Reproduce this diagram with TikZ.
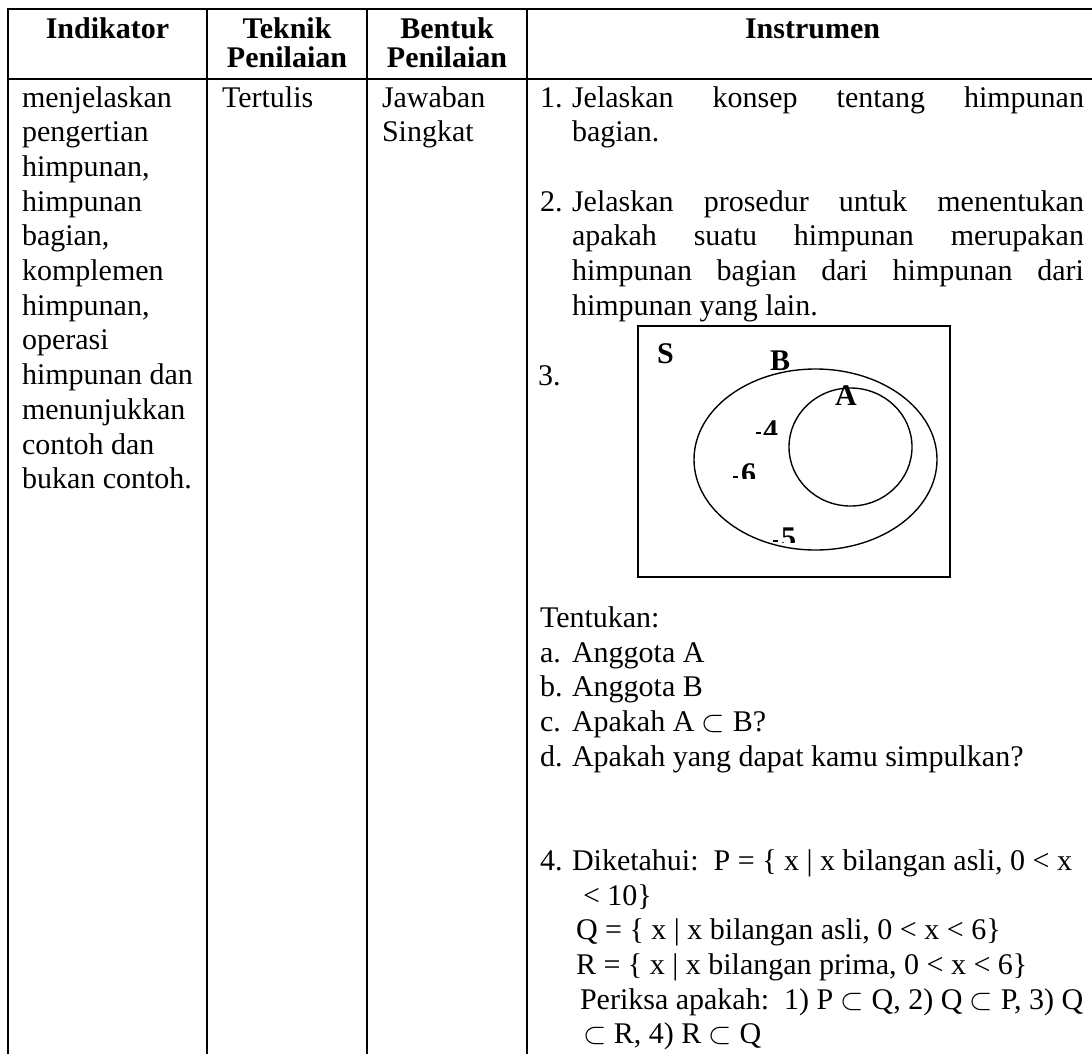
\documentclass[tikz,border=0pt]{standalone}
\usepackage{fontspec}
\setmainfont{Liberation Serif}
\newcommand\jline[1]{\makebox[204.8pt][s]{#1}}
\begin{document}
\begin{tikzpicture}[x=0.4pt,y=-0.4pt,
  rule/.style={line width=0.8pt},
  venn/.style={line width=0.55pt},
  txt/.style={anchor=base west,inner sep=0pt,outer sep=0pt,font=\fontsize{12pt}{14pt}\selectfont},
  hd/.style={anchor=base,inner sep=0pt,outer sep=0pt,font=\fontsize{12pt}{14pt}\selectfont\bfseries},
  lbl/.style={anchor=base west,inner sep=0pt,outer sep=0pt,font=\fontsize{12pt}{14pt}\selectfont\bfseries}]
\useasboundingbox (0,0) rectangle (1092,1053);
\clip (0,0) rectangle (1092,1053);
% table rules
\draw[rule] (8,1060) -- (8,9.3) -- (1098,9.3) -- (1098,1060);
\draw[rule] (8,79) -- (1098,79);
\draw[rule] (207,9.3) -- (207,1060);
\draw[rule] (367,9.3) -- (367,1060);
\draw[rule] (527,9.3) -- (527,1060);
% header
\node[hd] (h1) at (107.5,38) {Indikator};
\node[hd] (h2a) at (287,38) {Teknik};
\node[hd] (h2b) at (287,67) {Penilaian};
\node[hd] (h3a) at (447,38) {Bentuk};
\node[hd] (h3b) at (447,67) {Penilaian};
\node[hd] (h4) at (812.5,38) {Instrumen};
% column 1
\foreach \t [count=\k from 0] in {menjelaskan, pengertian, {himpunan,}, himpunan, {bagian,}, komplemen, {himpunan,}, operasi, himpunan dan, menunjukkan, contoh dan, bukan contoh.}
  \node[txt] (c1-\k) at (22,{107+34.7*\k}) {\t};
% column 2, 3
\node[txt] (c2) at (222,107) {Tertulis};
\node[txt] (c3a) at (382,107) {Jawaban};
\node[txt] (c3b) at (382,{107+34.7}) {Singkat};
% column 4
\node[txt] (n1) at (540,107) {1.};
\node[txt] (q1a) at (572,107) {\jline{Jelaskan konsep tentang himpunan}};
\node[txt] (q1b) at (572,{107+34.7*1}) {bagian.};
\node[txt] (n2) at (540,{107+34.7*3}) {2.};
\node[txt] (q2a) at (572,{107+34.7*3}) {\jline{Jelaskan prosedur untuk menentukan}};
\node[txt] (q2b) at (572,{107+34.7*4}) {\jline{apakah suatu himpunan merupakan}};
\node[txt] (q2c) at (572,{107+34.7*5}) {\jline{himpunan bagian dari himpunan dari}};
\node[txt] (q2d) at (572,{107+34.7*6}) {himpunan yang lain.};
\node[txt] (n3) at (538,385) {3.};
% Venn diagram
\draw[venn] (638,326) rectangle (950,577);
\draw[venn] (815.5,459.5) ellipse [x radius=121.5, y radius=90.5];
\draw[venn] (850.5,447) ellipse [x radius=61.5, y radius=59];
\node[lbl] (S) at (657,363) {S};
\node[lbl] (B) at (770,370) {B};
\node[lbl] (A) at (835,405) {A};
\begin{scope}
  \clip (750,400) rectangle (790,434);
  \node[lbl] (d4) at (763,440) {4};
\end{scope}
\fill (756,432) rectangle (761,434);
\begin{scope}
  \clip (725,440) rectangle (770,478);
  \node[lbl] (d6) at (741,483) {6};
\end{scope}
\fill (733,476) rectangle (738,478);
\begin{scope}
  \clip (770,505) rectangle (810,542);
  \node[lbl] (d5) at (781,547) {5};
\end{scope}
\fill (773,540) rectangle (778,542);
% questions
\node[txt] (t0) at (540,{107+34.7*15}) {Tentukan:};
\node[txt] (ta) at (540,{107+34.7*16}) {a.};
\node[txt] (ta2) at (572,{107+34.7*16}) {Anggota A};
\node[txt] (tb) at (540,{107+34.7*17}) {b.};
\node[txt] (tb2) at (572,{107+34.7*17}) {Anggota B};
\node[txt] (tc) at (540,{107+34.7*18}) {c.};
\node[txt] (tc2) at (572,{107+34.7*18}) {Apakah A $\subset$ B?};
\node[txt] (td) at (540,{107+34.7*19}) {d.};
\node[txt] (td2) at (572,{107+34.7*19}) {Apakah yang dapat kamu simpulkan?};
\node[txt] (n4) at (540,{107+34.7*22}) {4.};
\node[txt] (p4a) at (572,{107+34.7*22}) {Diketahui:\ \ P = \{ x | x bilangan asli, 0 < x};
\node[txt] (p4b) at (583,{107+34.7*23}) {< 10\}};
\node[txt] (p4c) at (576,{107+34.7*24}) {Q = \{ x | x bilangan asli, 0 < x < 6\}};
\node[txt] (p4d) at (576,{107+34.7*25}) {R = \{ x | x bilangan prima, 0 < x < 6\}};
\node[txt] (p4e) at (580,{107+34.7*26}) {Periksa apakah:\ \ 1) P $\subset$ Q, 2) Q $\subset$ P, 3) Q};
\node[txt] (p4f) at (583,{107+34.7*27}) {$\subset$ R, 4) R $\subset$ Q};
\end{tikzpicture}
\end{document}
